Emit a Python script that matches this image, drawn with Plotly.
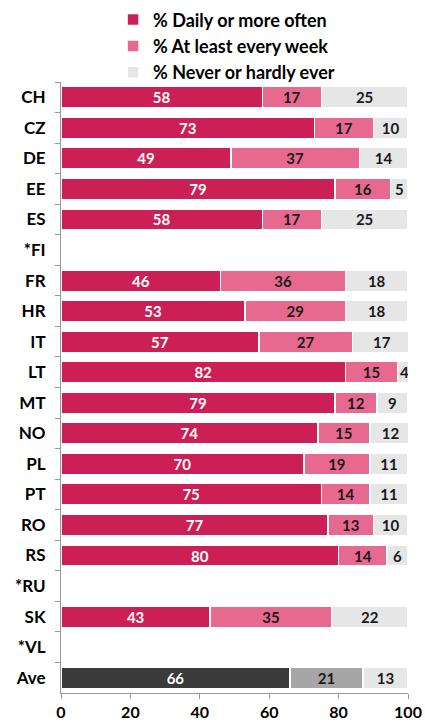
import plotly.graph_objects as go

countries = ["CH", "CZ", "DE", "EE", "ES", "*FI", "FR", "HR", "IT", "LT",
             "MT", "NO", "PL", "PT", "RO", "RS", "*RU", "SK", "*VL", "Ave"]
daily = [58, 73, 49, 79, 58, None, 46, 53, 57, 82, 79, 74, 70, 75, 77, 80, None, 43, None, 66]
weekly = [17, 17, 37, 16, 17, None, 36, 29, 27, 15, 12, 15, 19, 14, 13, 14, None, 35, None, 21]
never = [25, 10, 14, 5, 25, None, 18, 18, 17, 4, 9, 12, 11, 11, 10, 6, None, 22, None, 13]

series = [
    ("% Daily or more often", daily, "#CC1F56", "#3A3A3A", "white", "white"),
    ("% At least every week", weekly, "#E8698F", "#A6A6A6", "#1a1a1a", "#1a1a1a"),
    ("% Never or hardly ever", never, "#E6E6E6", "#E6E6E6", "#1a1a1a", "#1a1a1a"),
]

FONT = "Lato"
fig = go.Figure()
for name, vals, col, ave_col, tcol, ave_tcol in series:
    colors = [ave_col if c == "Ave" else col for c in countries]
    tcolors = [ave_tcol if c == "Ave" else tcol for c in countries]
    fig.add_trace(go.Bar(
        name=name,
        y=countries,
        x=vals,
        orientation="h",
        marker=dict(color=colors, line=dict(color="white", width=1.5)),
        text=[("" if v is None else str(v)) for v in vals],
        textposition="inside",
        insidetextanchor="middle",
        textangle=0,
        constraintext="none",
        textfont=dict(family=FONT, size=15, color=tcolors, weight="bold"),
        hoverinfo="skip",
    ))

fig.update_layout(
    barmode="stack",
    bargap=0.3,
    width=425,
    height=724,
    margin=dict(l=61, r=17, t=82, b=31, autoexpand=False),
    paper_bgcolor="white",
    plot_bgcolor="white",
    font=dict(family=FONT, color="black"),
    showlegend=True,
    legend=dict(
        x=0.15, xanchor="left",
        y=1.132, yanchor="top",
        font=dict(family=FONT, size=18, color="black", weight="bold"),
        traceorder="normal",
        itemwidth=30,
        tracegroupgap=0,
        bgcolor="rgba(0,0,0,0)",
    ),
)
fig.update_xaxes(
    range=[0, 100],
    tickvals=[0, 20, 40, 60, 80, 100],
    showgrid=False,
    showline=True,
    linecolor="#999999",
    linewidth=1,
    ticks="outside",
    tickcolor="#999999",
    ticklen=5,
    tickfont=dict(family=FONT, size=16, color="black", weight="bold"),
    zeroline=False,
)
fig.update_yaxes(
    categoryorder="array",
    categoryarray=countries,
    autorange="reversed",
    showgrid=False,
    showline=True,
    linecolor="#999999",
    linewidth=1,
    ticks="outside",
    tickson="boundaries",
    tickcolor="#999999",
    ticklen=5,
    ticklabelstandoff=11,
    tickfont=dict(family=FONT, size=17, color="black", weight="bold"),
)

fig.write_html("out.html")
